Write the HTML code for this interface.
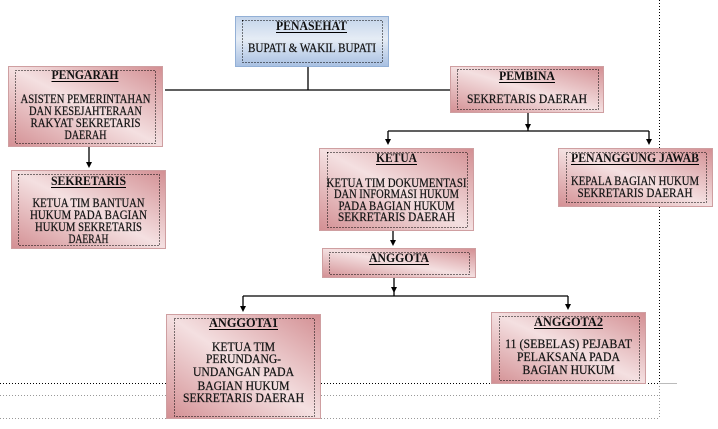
<!DOCTYPE html>
<html><head><meta charset="utf-8"><style>
html,body{margin:0;padding:0;background:#fff;}
svg{display:block;}
text{font-family:"Liberation Serif","Times New Roman",serif;fill:#111;}
.t{font-weight:bold;font-size:12.5px;}
.b{font-size:12.5px;stroke:#222;stroke-width:0.25px;}
</style></head><body>
<svg width="718" height="429" viewBox="0 0 718 429" xmlns="http://www.w3.org/2000/svg">
<defs>
<linearGradient id="pk" x1="0" y1="1" x2="1" y2="0">
<stop offset="0" stop-color="#d38f93"/>
<stop offset="0.5" stop-color="#f4e0e1"/>
<stop offset="1" stop-color="#d38f93"/>
</linearGradient>
<linearGradient id="bl" x1="0" y1="0" x2="0" y2="1">
<stop offset="0" stop-color="#c3d4ea"/>
<stop offset="0.45" stop-color="#e5ecf5"/>
<stop offset="1" stop-color="#a8c0e2"/>
</linearGradient>
</defs>

<!-- page guide dotted lines -->
<line x1="659.5" y1="0" x2="659.5" y2="383" stroke="#000" stroke-width="1" stroke-dasharray="1 2"/>
<line x1="0" y1="383.5" x2="659" y2="383.5" stroke="#000" stroke-width="1" stroke-dasharray="1 2"/>
<line x1="0" y1="395.5" x2="659" y2="395.5" stroke="#999" stroke-width="1" stroke-dasharray="1 2"/>
<line x1="0" y1="418.5" x2="659" y2="418.5" stroke="#999" stroke-width="1" stroke-dasharray="1 2"/>
<line x1="659.5" y1="383" x2="659.5" y2="419" stroke="#999" stroke-width="1" stroke-dasharray="1 2"/>
<line x1="659" y1="383.5" x2="677" y2="383.5" stroke="#bbb" stroke-width="1"/>

<!-- connectors -->
<g stroke="#000" stroke-width="1.3" fill="none">
<line x1="308" y1="67" x2="308" y2="90"/>
<line x1="165" y1="90" x2="450" y2="90"/>
<line x1="89" y1="147" x2="89" y2="165"/>
<line x1="528" y1="113" x2="528" y2="131"/>
<line x1="388" y1="131" x2="649" y2="131"/>
<line x1="388" y1="131" x2="388" y2="142"/>
<line x1="649" y1="131" x2="649" y2="142"/>
<line x1="393" y1="231" x2="393" y2="243"/>
<line x1="394" y1="278" x2="394" y2="296"/>
<line x1="243" y1="296" x2="568" y2="296"/>
<line x1="243" y1="296" x2="243" y2="309"/>
<line x1="568" y1="296" x2="568" y2="307"/>
</g>
<g fill="#000">
<polygon points="86,162 92,162 89,168"/>
<polygon points="525,124 531,124 528,130"/>
<polygon points="385,139 391,139 388,145"/>
<polygon points="646,139 652,139 649,145"/>
<polygon points="390,240 396,240 393,246"/>
<polygon points="391,287 397,287 394,293"/>
<polygon points="240,306 246,306 243,312"/>
<polygon points="565,304 571,304 568,310"/>
</g>

<!-- boxes -->
<g stroke-width="1">
<rect x="235.5" y="16.5" width="153" height="50" fill="url(#bl)" stroke="#93b0d6"/>
<rect x="8.5" y="66.5" width="154" height="80" fill="url(#pk)" stroke="#cf9fa1"/>
<rect x="450.5" y="66.5" width="153" height="46" fill="url(#pk)" stroke="#cf9fa1"/>
<rect x="11.5" y="170.5" width="154" height="78" fill="url(#pk)" stroke="#cf9fa1"/>
<rect x="319.5" y="148.5" width="154" height="82" fill="url(#pk)" stroke="#cf9fa1"/>
<rect x="558.5" y="148.5" width="154" height="58" fill="url(#pk)" stroke="#cf9fa1"/>
<rect x="322.5" y="248.5" width="153" height="29" fill="url(#pk)" stroke="#cf9fa1"/>
<rect x="166.5" y="314.5" width="154" height="104" fill="url(#pk)" stroke="#cf9fa1"/>
<rect x="491.5" y="312.5" width="154" height="71" fill="url(#pk)" stroke="#cf9fa1"/>
</g>
<g fill="none" stroke="#000" stroke-width="1" stroke-dasharray="1 2">
<rect x="242.5" y="20.5" width="140" height="42"/>
<rect x="15.5" y="70.5" width="140" height="73"/>
<rect x="457.5" y="69.5" width="141" height="40"/>
<rect x="18.5" y="174.5" width="141" height="71"/>
<rect x="327.5" y="152.5" width="140" height="75"/>
<rect x="566.5" y="152.5" width="140" height="50"/>
<rect x="329.5" y="252.5" width="140" height="22"/>
<rect x="174.5" y="318.5" width="140" height="98"/>
<rect x="499.5" y="316.5" width="140" height="64"/>
</g>

<!-- titles -->
<g text-anchor="middle" class="t">
<text class="t" x="311.5" y="30" textLength="71" lengthAdjust="spacingAndGlyphs">PENASEHAT</text>
<text class="t" x="85" y="79" textLength="67" lengthAdjust="spacingAndGlyphs">PENGARAH</text>
<text class="t" x="527" y="80" textLength="56" lengthAdjust="spacingAndGlyphs">PEMBINA</text>
<text class="t" x="88.5" y="185" textLength="75" lengthAdjust="spacingAndGlyphs">SEKRETARIS</text>
<text class="t" x="396.5" y="162" textLength="41" lengthAdjust="spacingAndGlyphs">KETUA</text>
<text class="t" x="635" y="162" textLength="128" lengthAdjust="spacingAndGlyphs">PENANGGUNG JAWAB</text>
<text class="t" x="399" y="262" textLength="60" lengthAdjust="spacingAndGlyphs">ANGGOTA</text>
<text class="t" x="243.5" y="327" textLength="69" lengthAdjust="spacingAndGlyphs">ANGGOTA1</text>
<text class="t" x="568.5" y="326" textLength="69" lengthAdjust="spacingAndGlyphs">ANGGOTA2</text>
</g>
<!-- underlines -->
<g stroke="#000" stroke-width="1">
<line x1="276" y1="32.5" x2="347" y2="32.5"/>
<line x1="51.5" y1="81.5" x2="118.5" y2="81.5"/>
<line x1="499" y1="82.5" x2="555" y2="82.5"/>
<line x1="51" y1="187.5" x2="126" y2="187.5"/>
<line x1="376" y1="164.5" x2="417" y2="164.5"/>
<line x1="571" y1="164.5" x2="699" y2="164.5"/>
<line x1="369" y1="264.5" x2="429" y2="264.5"/>
<line x1="209" y1="329.5" x2="278" y2="329.5"/>
<line x1="534" y1="328.5" x2="603" y2="328.5"/>
</g>

<!-- body text -->
<g text-anchor="middle">
<text class="b" x="312" y="52" textLength="128" lengthAdjust="spacingAndGlyphs">BUPATI &amp; WAKIL BUPATI</text>

<text class="b" x="85.5" y="103" textLength="130" lengthAdjust="spacingAndGlyphs">ASISTEN PEMERINTAHAN</text>
<text class="b" x="85.5" y="115" textLength="113" lengthAdjust="spacingAndGlyphs">DAN KESEJAHTERAAN</text>
<text class="b" x="85.5" y="127" textLength="110" lengthAdjust="spacingAndGlyphs">RAKYAT SEKRETARIS</text>
<text class="b" x="85.5" y="139" textLength="42" lengthAdjust="spacingAndGlyphs">DAERAH</text>

<text class="b" x="527" y="103" textLength="120" lengthAdjust="spacingAndGlyphs">SEKRETARIS DAERAH</text>

<text class="b" x="88.5" y="207" textLength="112" lengthAdjust="spacingAndGlyphs">KETUA TIM BANTUAN</text>
<text class="b" x="88.5" y="219" textLength="117" lengthAdjust="spacingAndGlyphs">HUKUM PADA BAGIAN</text>
<text class="b" x="88.5" y="231" textLength="107" lengthAdjust="spacingAndGlyphs">HUKUM SEKRETARIS</text>
<text class="b" x="88.5" y="243" textLength="40" lengthAdjust="spacingAndGlyphs">DAERAH</text>

<text class="b" x="396.5" y="187" textLength="140" lengthAdjust="spacingAndGlyphs">KETUA TIM DOKUMENTASI</text>
<text class="b" x="396.5" y="198" textLength="125" lengthAdjust="spacingAndGlyphs">DAN INFORMASI HUKUM</text>
<text class="b" x="396.5" y="210" textLength="116" lengthAdjust="spacingAndGlyphs">PADA BAGIAN HUKUM</text>
<text class="b" x="396.5" y="221" textLength="117" lengthAdjust="spacingAndGlyphs">SEKRETARIS DAERAH</text>

<text class="b" x="635" y="185" textLength="128" lengthAdjust="spacingAndGlyphs">KEPALA BAGIAN HUKUM</text>
<text class="b" x="635" y="197" textLength="115" lengthAdjust="spacingAndGlyphs">SEKRETARIS DAERAH</text>

<text class="b" x="243.5" y="351" textLength="63" lengthAdjust="spacingAndGlyphs">KETUA TIM</text>
<text class="b" x="243.5" y="363" textLength="75" lengthAdjust="spacingAndGlyphs">PERUNDANG-</text>
<text class="b" x="243.5" y="376" textLength="101" lengthAdjust="spacingAndGlyphs">UNDANGAN PADA</text>
<text class="b" x="243.5" y="390" textLength="92" lengthAdjust="spacingAndGlyphs">BAGIAN HUKUM</text>
<text class="b" x="243.5" y="402" textLength="121" lengthAdjust="spacingAndGlyphs">SEKRETARIS DAERAH</text>

<text class="b" x="568.5" y="348" textLength="127" lengthAdjust="spacingAndGlyphs">11 (SEBELAS) PEJABAT</text>
<text class="b" x="568.5" y="361" textLength="103" lengthAdjust="spacingAndGlyphs">PELAKSANA PADA</text>
<text class="b" x="568.5" y="374" textLength="92" lengthAdjust="spacingAndGlyphs">BAGIAN HUKUM</text>
</g>
</svg>
</body></html>
